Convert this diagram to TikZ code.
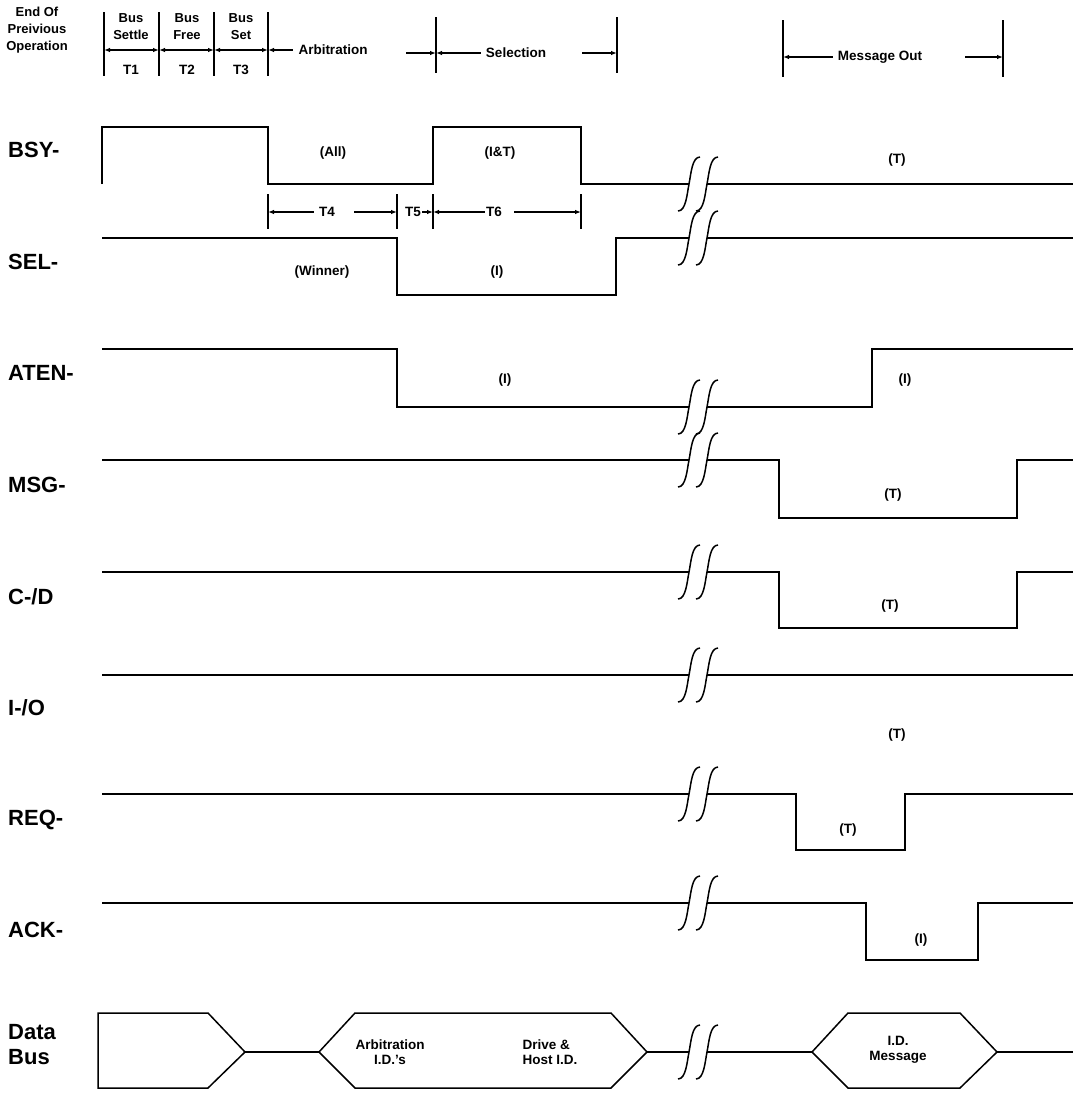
\documentclass[tikz,border=0pt]{standalone}
\usepackage{fontspec}
\setmainfont{Liberation Sans}
\usetikzlibrary{arrows.meta}

\begin{document}
\begin{tikzpicture}[x=1pt,y=-1pt,
  sig/.style={line width=1.5pt},
  tick/.style={line width=1.4pt},
  dim/.style={line width=1.1pt},
  tipL/.style={{Latex[length=6pt,width=4.5pt]}-},
  tipR/.style={-{Latex[length=6pt,width=4.5pt]}},
  tipLR/.style={{Latex[length=6pt,width=4.5pt]}-{Latex[length=6pt,width=4.5pt]}},
  signame/.style={anchor=west,font=\bfseries\fontsize{22}{25}\selectfont,inner sep=0pt,align=left},
  note/.style={font=\bfseries\fontsize{13.5}{15}\selectfont,inner sep=1pt},
  dimtext/.style={note,inner xsep=5pt},
  head/.style={font=\bfseries\fontsize{13}{17}\selectfont,inner sep=1pt,align=center}]
\useasboundingbox (0,0) rectangle (1079,1093);

% phases along the top
\node[head] (endop) at (37,30) {End Of\\Preivious\\Operation};
\node[head] (settle) at (131,27) {Bus\\Settle};
\node[head] (free) at (187,27) {Bus\\Free};
\node[head] (set) at (241,27) {Bus\\Set};
\node[note] (tone) at (131,70) {T1};
\node[note] (ttwo) at (187,70) {T2};
\node[note] (tthree) at (241,70) {T3};
\foreach \x in {104,159,214,268} \draw[tick] (\x,12) -- (\x,76);
\foreach \x in {436,617} \draw[tick] (\x,17) -- (\x,73);
\foreach \x in {783,1003} \draw[tick] (\x,20) -- (\x,77);
\coordinate (p1) at (104,50);
\coordinate (p2) at (159,50);
\coordinate (p3) at (214,50);
\coordinate (p4) at (268,50);
\coordinate (p5) at (436,53);
\coordinate (p6) at (617,53);
\coordinate (p7) at (783,57);
\coordinate (p8) at (1003,57);
\draw[dim,tipLR] (p1) -- (p2);
\draw[dim,tipLR] (p2) -- (p3);
\draw[dim,tipLR] (p3) -- (p4);
\node[dimtext] (arb) at (333,50) {Arbitration};
\coordinate (arbR) at (406,53);
\draw[dim,tipL] (p4) -- (arb.west);
\draw[dim,tipR] (arbR) -- (p5);
\node[dimtext] (selct) at (516,53) {Selection};
\coordinate (selR) at (582,53);
\draw[dim,tipL] (p5) -- (selct.west);
\draw[dim,tipR] (selR) -- (p6);
\node[dimtext] (msgout) at (880,57) {Message Out};
\coordinate (moR) at (965,57);
\draw[dim,tipL] (p7) -- (msgout.west);
\draw[dim,tipR] (moR) -- (p8);

% signal names
\node[signame] (bsy) at (8,150) {BSY-};
\node[signame] (sel) at (8,262) {SEL-};
\node[signame] (aten) at (8,373) {ATEN-};
\node[signame] (msg) at (8,485) {MSG-};
\node[signame] (cd) at (8,597) {C-/D};
\node[signame] (io) at (8,708) {I-/O};
\node[signame] (req) at (8,820) {REQ-};
\node[signame] (ack) at (8,930) {ACK-};
\node[signame] (dbus) at (8,1045) {Data\\Bus};

% waveforms
\draw[sig] (102,184) -- (102,127) -- (268,127) -- (268,184) -- (433,184) -- (433,127) -- (581,127) -- (581,184) -- (689,184);
\draw[sig] (707,184) -- (1073,184);
\draw[sig] (102,238) -- (397,238) -- (397,295) -- (616,295) -- (616,238) -- (689,238);
\draw[sig] (707,238) -- (1073,238);
\draw[sig] (102,349) -- (397,349) -- (397,407) -- (689,407);
\draw[sig] (707,407) -- (872,407) -- (872,349) -- (1073,349);
\draw[sig] (102,460) -- (689,460);
\draw[sig] (707,460) -- (779,460) -- (779,518) -- (1017,518) -- (1017,460) -- (1073,460);
\draw[sig] (102,572) -- (689,572);
\draw[sig] (707,572) -- (779,572) -- (779,628) -- (1017,628) -- (1017,572) -- (1073,572);
\draw[sig] (102,675) -- (689,675);
\draw[sig] (707,675) -- (1073,675);
\draw[sig] (102,794) -- (689,794);
\draw[sig] (707,794) -- (796,794) -- (796,850) -- (905,850) -- (905,794) -- (1073,794);
\draw[sig] (102,903) -- (689,903);
\draw[sig] (707,903) -- (866,903) -- (866,960) -- (978,960) -- (978,903) -- (1073,903);

% data bus
\draw[sig] (98,1013) -- (208,1013) -- (245,1052) -- (208,1088) -- (98,1088) -- cycle;
\draw[sig] (245,1052) -- (319,1052);
\draw[sig] (319,1052) -- (355,1013) -- (611,1013) -- (647,1052) -- (611,1088) -- (355,1088) -- cycle;
\draw[sig] (647,1052) -- (689,1052);
\draw[sig] (707,1052) -- (812,1052);
\draw[sig] (812,1052) -- (848,1013) -- (960,1013) -- (997,1052) -- (960,1088) -- (848,1088) -- cycle;
\draw[sig] (997,1052) -- (1073,1052);
\node[note,align=center] (arbid) at (390,1052) {Arbitration\\I.D.'s};
\node[note,align=left] (drive) at (550,1052) {Drive \&\\Host I.D.};
\node[note,align=center] (idmsg) at (898,1050) {I.D.\\Message};

% breaks
\foreach \y in {184,238,407,460,572,675,794,903,1052}
  \foreach \x in {689,707}
    \draw[sig] (\x-11,\y+27) .. controls (\x-3,\y+27) and (\x-2,\y+10) .. (\x,\y) .. controls (\x+2,\y-10) and (\x+3,\y-27) .. (\x+11,\y-27);

% timing under BSY-
\foreach \x in {268,397,433,581} \draw[tick] (\x,194) -- (\x,229);
\coordinate (q1) at (268,212);
\coordinate (q2) at (397,212);
\coordinate (q3) at (433,212);
\coordinate (q4) at (581,212);
\node[dimtext] (tfour) at (327,212) {T4};
\node[note] (tfive) at (413,212) {T5};
\node[note] (tsix) at (494,212) {T6};
\coordinate (tfourR) at (354,212);
\coordinate (tsixR) at (514,212);
\draw[dim,tipL] (q1) -- (tfour.west);
\draw[dim,tipR] (tfourR) -- (q2);
\draw[dim,tipR] (tfive.east) -- (q3);
\draw[dim,tipL] (q3) -- (tsix.west);
\draw[dim,tipR] (tsixR) -- (q4);

% who drives
\node[note] (all) at (333,153) {(All)};
\node[note] (iandt) at (500,153) {(I\&T)};
\node[note] (bsyt) at (897,160) {(T)};
\node[note] (winner) at (322,272) {(Winner)};
\node[note] (seli) at (497,272) {(I)};
\node[note] (ateni) at (505,380) {(I)};
\node[note] (atenii) at (905,380) {(I)};
\node[note] (msgt) at (893,495) {(T)};
\node[note] (cdt) at (890,606) {(T)};
\node[note] (iot) at (897,735) {(T)};
\node[note] (reqt) at (848,830) {(T)};
\node[note] (acki) at (921,940) {(I)};
\end{tikzpicture}
\end{document}
